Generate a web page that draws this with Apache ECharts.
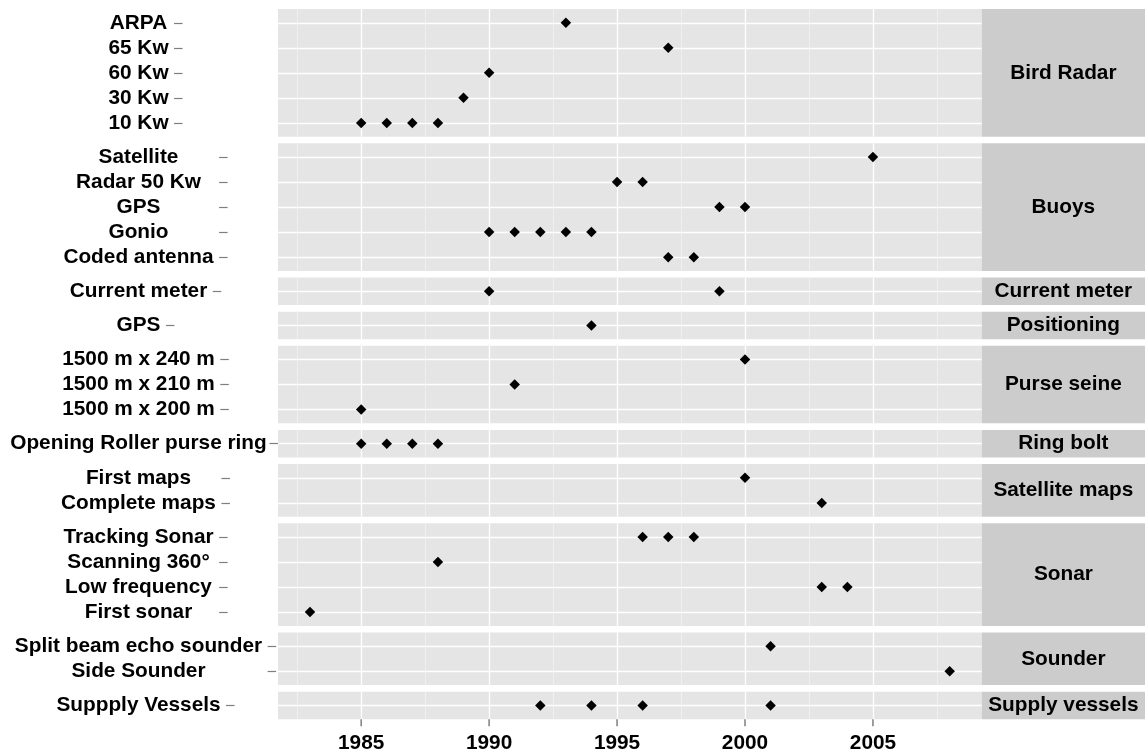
<!DOCTYPE html>
<html>
<head>
<meta charset="utf-8">
<script src="https://cdn.jsdelivr.net/npm/echarts@6/dist/echarts.min.js"></script>
<style>
  html, body { margin: 0; padding: 0; background: #ffffff; }
  #chart { width: 1145px; height: 751px; }
</style>
</head>
<body>
<div id="chart"></div>
<script>
// ---- Data: technology introductions by year, grouped by equipment family ----
const panelNames = ['Bird Radar', 'Buoys', 'Current meter', 'Positioning', 'Purse seine',
                    'Ring bolt', 'Satellite maps', 'Sonar', 'Sounder', 'Supply vessels'];

// Items in each family, listed top to bottom, with the years each one appeared
const birdRadarItems = ['ARPA', '65 Kw', '60 Kw', '30 Kw', '10 Kw'];
const birdRadarYears = [[1993], [1997], [1990], [1989], [1985, 1986, 1987, 1988]];

const buoysItems = ['Satellite', 'Radar 50 Kw', 'GPS', 'Gonio', 'Coded antenna'];
const buoysYears = [[2005], [1995, 1996], [1999, 2000], [1990, 1991, 1992, 1993, 1994], [1997, 1998]];

const currentMeterItems = ['Current meter'];
const currentMeterYears = [[1990, 1999]];

const positioningItems = ['GPS'];
const positioningYears = [[1994]];

const purseSeineItems = ['1500 m x 240 m', '1500 m x 210 m', '1500 m x 200 m'];
const purseSeineYears = [[2000], [1991], [1985]];

const ringBoltItems = ['Opening Roller purse ring'];
const ringBoltYears = [[1985, 1986, 1987, 1988]];

const satelliteMapsItems = ['First maps', 'Complete maps'];
const satelliteMapsYears = [[2000], [2003]];

const sonarItems = ['Tracking Sonar', 'Scanning 360°', 'Low frequency', 'First sonar'];
const sonarYears = [[1996, 1997, 1998], [1988], [2003, 2004], [1983]];

const sounderItems = ['Split beam echo sounder', 'Side Sounder'];
const sounderYears = [[2001], [2008]];

const supplyItems = ['Suppply Vessels'];
const supplyYears = [[1992, 1994, 1996, 2001]];

const yearTicks = [1985, 1990, 1995, 2000, 2005];
const yearMinorTicks = [1982.5, 1987.5, 1992.5, 1997.5, 2002.5, 2007.5];
const yearMin = 1981.75;
const yearMax = 2009.25;

const panels = [
  { name: panelNames[0], items: birdRadarItems, years: birdRadarYears },
  { name: panelNames[1], items: buoysItems, years: buoysYears },
  { name: panelNames[2], items: currentMeterItems, years: currentMeterYears },
  { name: panelNames[3], items: positioningItems, years: positioningYears },
  { name: panelNames[4], items: purseSeineItems, years: purseSeineYears },
  { name: panelNames[5], items: ringBoltItems, years: ringBoltYears },
  { name: panelNames[6], items: satelliteMapsItems, years: satelliteMapsYears },
  { name: panelNames[7], items: sonarItems, years: sonarYears },
  { name: panelNames[8], items: sounderItems, years: sounderYears },
  { name: panelNames[9], items: supplyItems, years: supplyYears }
];

// ---- Layout ----
const FONT = '"Liberation Sans", Arial, sans-serif';
const FONT_SIZE = 20.8;
const PANEL_LEFT = 278;
const PANEL_RIGHT = 981.7;
const STRIP_RIGHT = 1145;
const FIRST_TOP = 9;
const GAP = 6.6;
const UNIT = 25.03;      // pixels per category row
const PAD = 0.55;        // discrete axis expansion, in rows
const LABEL_CENTER = 138.5;
const TICK_GAP = 5.5;
const TICK_LEN = 8.5;
const X_TICK_LEN = 7;

const measureCtx = document.createElement('canvas').getContext('2d');
measureCtx.font = 'bold ' + FONT_SIZE + 'px ' + FONT;
function textWidth(s) { return measureCtx.measureText(s).width; }

const grids = [], xAxes = [], yAxes = [], series = [], graphics = [];
let panelTop = FIRST_TOP;
let plotBottom = FIRST_TOP;

panels.forEach(function (p, i) {
  const n = p.items.length;
  const h = (n - 1 + 2 * PAD) * UNIT;
  const isLast = i === panels.length - 1;
  const idx = p.items.map(function (_, k) { return k; });

  grids.push({
    left: PANEL_LEFT, top: panelTop, width: PANEL_RIGHT - PANEL_LEFT, height: h,
    show: true, backgroundColor: '#E5E5E5', borderWidth: 0,
    containLabel: false, outerBoundsMode: 'none'
  });

  // major year axis: grid lines for every panel; under the last one, each label
  // carries its own tick bar above the year
  xAxes.push({
    type: 'value', gridIndex: i, position: 'bottom', min: yearMin, max: yearMax,
    axisLine: { show: false, onZero: false },
    axisTick: { show: false, customValues: yearTicks },
    axisLabel: {
      show: isLast, customValues: yearTicks, margin: 0,
      formatter: function (v) { return '{tick| }\n{yr|' + Math.round(v) + '}'; },
      rich: {
        tick: { width: 1.5, height: X_TICK_LEN, lineHeight: X_TICK_LEN, fontSize: 1,
                backgroundColor: '#7F7F7F', align: 'center' },
        yr: { fontSize: FONT_SIZE, fontWeight: 'bold', fontFamily: FONT, color: '#000',
              lineHeight: 35, align: 'center' }
      }
    },
    splitLine: { show: true, lineStyle: { color: '#FFFFFF', width: 1.3 } }
  });
  // minor year grid lines
  xAxes.push({
    type: 'value', gridIndex: i, position: 'top', min: yearMin, max: yearMax,
    axisLine: { show: false, onZero: false },
    axisTick: { show: false, customValues: yearMinorTicks },
    axisLabel: { show: false, customValues: yearMinorTicks },
    splitLine: { show: true, lineStyle: { color: '#F2F2F2', width: 0.8 } }
  });

  // tick marks sit just right of the widest label in the panel
  const maxW = Math.max.apply(null, p.items.map(textWidth));
  const tickRight = Math.min(PANEL_LEFT, LABEL_CENTER + maxW / 2 + TICK_GAP + TICK_LEN);

  yAxes.push({
    type: 'value', gridIndex: i, position: 'left', inverse: true,
    min: -PAD, max: n - 1 + PAD,
    offset: PANEL_LEFT - tickRight,
    axisLine: { show: false, onZero: false },
    axisTick: { show: true, customValues: idx, length: TICK_LEN,
                lineStyle: { color: '#7F7F7F', width: 1.2 } },
    axisLabel: {
      show: true, customValues: idx, margin: tickRight - LABEL_CENTER, align: 'center',
      fontSize: FONT_SIZE, fontWeight: 'bold', fontFamily: FONT, color: '#000',
      formatter: function (v) { return p.items[Math.round(v)]; }
    },
    splitLine: { show: true, lineStyle: { color: '#FFFFFF', width: 1.3 } }
  });

  const data = [];
  p.years.forEach(function (ys, k) {
    ys.forEach(function (y) { data.push([y, k]); });
  });
  series.push({
    type: 'scatter', name: p.name, xAxisIndex: 2 * i, yAxisIndex: i,
    data: data, symbol: 'diamond', symbolSize: [10.5, 10.5],
    itemStyle: { color: '#000', opacity: 1 }, silent: true, z: 5
  });

  // facet strip on the right
  graphics.push({
    type: 'rect', silent: true,
    shape: { x: PANEL_RIGHT, y: panelTop, width: STRIP_RIGHT - PANEL_RIGHT, height: h },
    style: { fill: '#CCCCCC' }
  });
  graphics.push({
    type: 'text', silent: true,
    x: (PANEL_RIGHT + STRIP_RIGHT) / 2, y: panelTop + h / 2,
    style: { text: p.name, fill: '#000', font: 'bold ' + FONT_SIZE + 'px ' + FONT,
             align: 'center', verticalAlign: 'middle' }
  });

  plotBottom = panelTop + h;
  panelTop += h + GAP;
});

const chart = echarts.init(document.getElementById('chart'), null, { renderer: 'canvas' });
chart.setOption({
  animation: false,
  backgroundColor: '#ffffff',
  grid: grids,
  xAxis: xAxes,
  yAxis: yAxes,
  series: series,
  graphic: graphics
});
</script>
</body>
</html>
